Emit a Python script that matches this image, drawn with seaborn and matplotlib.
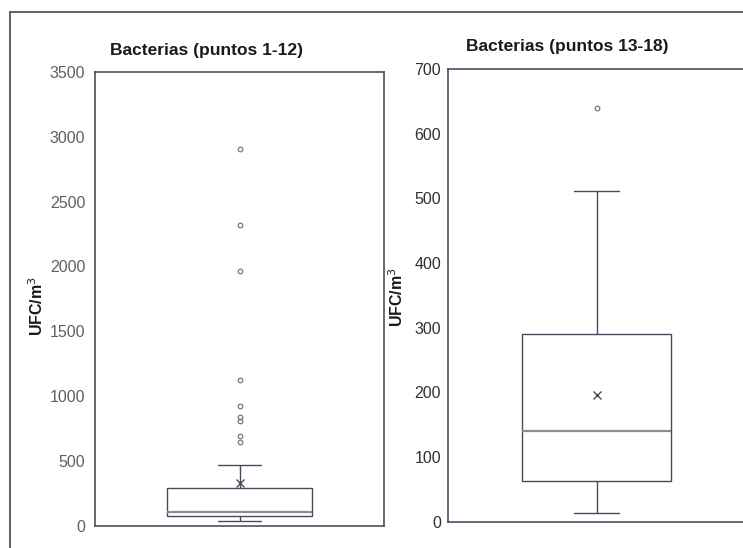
import matplotlib
matplotlib.use("Agg")
import matplotlib.pyplot as plt
import seaborn as sns
from matplotlib.lines import Line2D

# UFC/m3 readings, points 1-12 (sorted)
bacterias_1_12 = [39, 42, 45, 48, 50, 52, 55, 57, 60, 62, 64, 67, 70, 72, 75,
                  77, 78, 80, 81, 83, 85, 86, 88, 90, 92, 94, 96, 98, 100, 102,
                  103, 120, 175, 190, 205, 215, 225, 232, 240, 248, 255, 262, 270, 278, 285,
                  288, 300, 320, 350, 390, 430, 471,
                  646, 690, 805, 836, 921, 1122, 1965, 2323, 2907]

# UFC/m3 readings, points 13-18
bacterias_13_18 = [13, 20, 30, 63, 70, 90, 141, 150, 160, 290, 369, 512, 640]

titles = ["Bacterias (puntos 1-12)", "Bacterias (puntos 13-18)"]
ylabel = "UFC/m$^3$"
yticks_left = [0, 500, 1000, 1500, 2000, 2500, 3000, 3500]
yticks_right = [0, 100, 200, 300, 400, 500, 600, 700]

sns.set_style("white")
plt.rcParams['font.family'] = ['Liberation Sans', 'DejaVu Sans']

fig = plt.figure(figsize=(7.43, 5.48), dpi=100)

ax1 = fig.add_axes([95/743, 1-525.7/548, 289/743, 453.7/548])
ax2 = fig.add_axes([448/743, 1-521.7/548, 297/743, 452.7/548])

line_col = '#474b5c'
box_kws = dict(width=0.5, color='white', linecolor=line_col, linewidth=1.0,
               showmeans=True,
               meanprops=dict(marker='x', markeredgecolor='#4a4d58', markersize=6,
                              markeredgewidth=1.0),
               medianprops=dict(color='#8a8c94', linewidth=1.6),
               flierprops=dict(marker='o', markerfacecolor='none',
                               markeredgecolor='#74777f', markersize=3.3,
                               markeredgewidth=0.9),
               capwidths=0.15)

sns.boxplot(y=bacterias_1_12, ax=ax1, **box_kws)
sns.boxplot(y=bacterias_13_18, ax=ax2, **box_kws)

ax1.set_ylim(0, 3500)
ax1.set_yticks(yticks_left)
ax2.set_ylim(0, 700)
ax2.set_yticks(yticks_right)

for ax, tcol, pad in [(ax1, '#5f5f5f', 7), (ax2, '#303030', 5)]:
    ax.set_xlim(-0.5, 0.5)
    ax.set_xticks([])
    ax.set_xlabel('')
    ax.set_ylabel('')
    ax.tick_params(axis='y', direction='in', length=3, color='#cccccc',
                   labelsize=11.5, labelcolor=tcol, pad=pad)
    for s in ax.spines.values():
        s.set_color('#3e4252')
        s.set_linewidth(1.1)

# titles and axis labels placed like the original panels
fig.text(206/743, 1-50.7/548, titles[0], ha='center', va='center',
         fontsize=12.5, fontweight='bold', color='#1a1a1a')
fig.text(567/743, 1-46.7/548, titles[1], ha='center', va='center',
         fontsize=12.5, fontweight='bold', color='#1a1a1a')
fig.text(37/743, 1-306/548, ylabel, ha='center', va='center', rotation=90,
         fontsize=11.5, fontweight='bold', color='#1a1a1a')
fig.text(397/743, 1-297/548, ylabel, ha='center', va='center', rotation=90,
         fontsize=11.5, fontweight='bold', color='#1a1a1a')

# outer frame of the pasted figure
fig.add_artist(Line2D([10/743, 1], [1-12/548, 1-12/548], color='#555555', linewidth=1.3))
fig.add_artist(Line2D([10/743, 10/743], [0, 1-12/548], color='#555555', linewidth=1.3))

fig.savefig('out.png', dpi=100)
